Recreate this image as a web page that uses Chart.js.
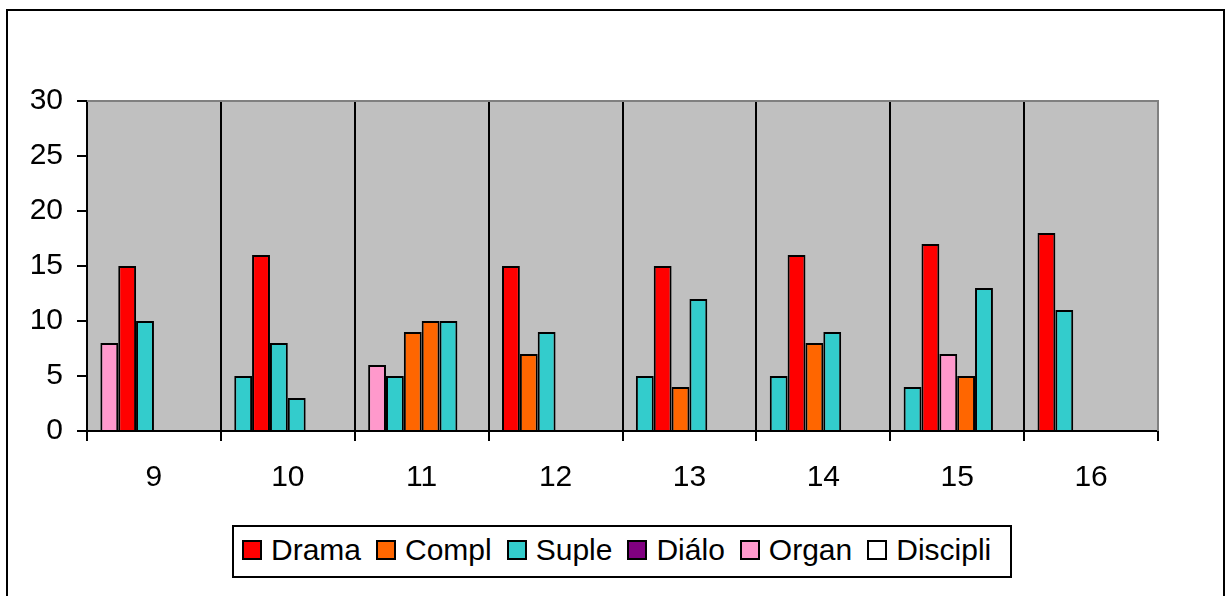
<!DOCTYPE html>
<html>
<head>
<meta charset="utf-8">
<script src="https://cdn.jsdelivr.net/npm/chart.js@4/dist/chart.umd.min.js"></script>
<style>
  html, body { margin: 0; padding: 0; background: #fff; }
  #wrap { position: relative; width: 1228px; height: 596px; overflow: hidden; }
  #legend {
    position: absolute; left: 232px; top: 525px; width: 780px; height: 53px;
    box-sizing: border-box; border: 2px solid #000; background: #fff;
    display: flex; align-items: center; justify-content: flex-start; padding: 0 0 3px 8px;
    font-family: "Liberation Sans", Arial, sans-serif; font-size: 30px; color: #000;
  }
  .item { display: flex; align-items: center; margin-right: 15px; white-space: nowrap; }
  .sw { width: 20px; height: 20px; box-sizing: border-box; border: 2px solid #000; margin-right: 9px; }
</style>
</head>
<body>
<div id="wrap">
  <canvas id="chart" width="1228" height="596"></canvas>
  <div id="legend"></div>
</div>
<script>
const categories = ['9', '10', '11', '12', '13', '14', '15', '16'];
const seriesNames = ['Drama', 'Compl', 'Suple', 'Diálo', 'Organ', 'Discipli'];

// valores (null = sin barra)
const drama    = [8, 5, 6, 15, 5, 5, 4, 18];
const compl    = [15, 16, 5, 7, 15, 16, 17, 11];
const suple    = [10, 8, 9, 9, 4, 8, 7, null];
const dialo    = [null, 3, 10, null, 12, 9, 5, null];
const organ    = [null, null, 10, null, null, null, 13, null];
const discipli = [null, null, null, null, null, null, null, null];

const yTicks = [0, 5, 10, 15, 20, 25, 30];

const R = '#FF0000', O = '#FF6600', T = '#33CCCC', V = '#800080', P = '#FF99CC', W = '#FFFFFF';
const legendColors = [R, O, T, V, P, W];
// colores por punto, tal como aparecen en el original
const pointColors = [
    [P, T, P, R, T, T, T, R],
    [R, R, T, O, R, R, R, T],
    [T, T, O, T, O, O, P, T],
    [T, T, O, T, T, T, O, T],
    [T, T, T, T, T, T, T, T],
    [W, W, W, W, W, W, W, W]
];

const seriesData = [drama, compl, suple, dialo, organ, discipli];
const font = { family: '"Liberation Sans", Arial, sans-serif', size: 30 };

const plotBackground = {
    id: 'plotBackground',
    beforeDraw(chart) {
        const { ctx, chartArea: a } = chart;
        ctx.save();
        ctx.fillStyle = '#C0C0C0';
        ctx.fillRect(a.left, a.top, a.right - a.left, a.bottom - a.top);
        ctx.restore();
    },
    afterDraw(chart) {
        const { ctx, chartArea: a } = chart;
        ctx.save();
        ctx.strokeStyle = '#808080';
        ctx.lineWidth = 2;
        ctx.beginPath();
        ctx.moveTo(a.left, a.top);
        ctx.lineTo(a.right, a.top);
        ctx.lineTo(a.right, a.bottom);
        ctx.stroke();
        // marco exterior
        ctx.strokeStyle = '#000';
        ctx.lineWidth = 2;
        ctx.strokeRect(7, 10, 1217, 700);
        ctx.restore();
    }
};

new Chart(document.getElementById('chart'), {
    type: 'bar',
    data: {
        labels: categories,
        datasets: seriesData.map((vals, i) => ({
            label: seriesNames[i],
            data: vals,
            backgroundColor: pointColors[i],
            borderColor: '#000',
            borderWidth: 2,
            categoryPercentage: 0.8,
            barPercentage: 1
        }))
    },
    options: {
        responsive: false,
        animation: false,
        layout: { padding: { left: 0, right: 70, top: 101, bottom: 95 } },
        plugins: { legend: { display: false }, tooltip: { enabled: false } },
        scales: {
            x: {
                grid: {
                    color: c => c.index === categories.length ? '#808080' : '#000',
                    tickColor: '#000',
                    lineWidth: 2,
                    tickLength: 10
                },
                border: { color: '#000', width: 2 },
                ticks: { font, color: '#000', padding: 19 },
                afterFit: s => { s.height = 70; }
            },
            y: {
                min: 0,
                max: 30,
                afterBuildTicks: s => { s.ticks = yTicks.map(v => ({ value: v })); },
                ticks: { font, color: '#000', padding: 14 },
                grid: { drawOnChartArea: false, color: '#000', lineWidth: 2, tickLength: 10 },
                border: { color: '#000', width: 2 },
                afterFit: s => { s.width = 87; }
            }
        }
    },
    plugins: [plotBackground]
});

const legend = document.getElementById('legend');
seriesNames.forEach((name, i) => {
    const item = document.createElement('div');
    item.className = 'item';
    const sw = document.createElement('div');
    sw.className = 'sw';
    sw.style.background = legendColors[i];
    const txt = document.createElement('span');
    txt.textContent = name;
    item.appendChild(sw);
    item.appendChild(txt);
    legend.appendChild(item);
});
</script>
</body>
</html>
